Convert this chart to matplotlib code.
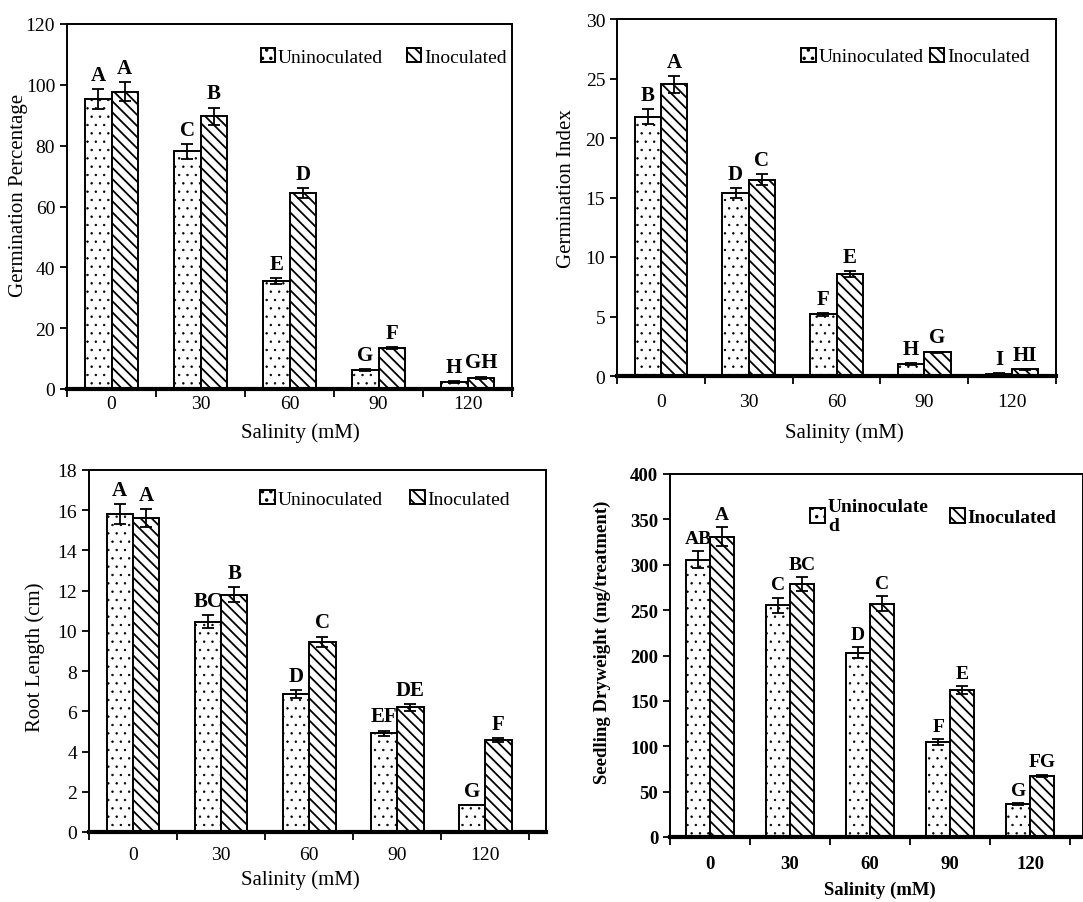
import matplotlib
matplotlib.use("Agg")
import matplotlib.pyplot as plt
import numpy as np

plt.rcParams['font.family'] = ['Liberation Serif', 'DejaVu Serif']
plt.rcParams['hatch.linewidth'] = 1.3

salinity = ['0', '30', '60', '90', '120']
series_names = ['Uninoculated', 'Inoculated']

# Panel 1: Germination Percentage
gp_unin = [95.3, 78.1, 35.4, 6.3, 2.3]
gp_inoc = [97.8, 89.6, 64.4, 13.4, 3.7]
gp_unin_err = [3.2, 2.4, 1.0, 0.3, 0.3]
gp_inoc_err = [3.2, 2.9, 1.7, 0.4, 0.4]
gp_unin_let = ['A', 'C', 'E', 'G', 'H']
gp_inoc_let = ['A', 'B', 'D', 'F', 'GH']

# Panel 2: Germination Index
gi_unin = [21.8, 15.4, 5.2, 1.0, 0.2]
gi_inoc = [24.5, 16.5, 8.6, 2.0, 0.55]
gi_unin_err = [0.65, 0.4, 0.12, 0.1, 0.05]
gi_inoc_err = [0.7, 0.45, 0.25, 0.05, 0.05]
gi_unin_let = ['B', 'D', 'F', 'H', 'I']
gi_inoc_let = ['A', 'C', 'E', 'G', 'HI']

# Panel 3: Root Length
rl_unin = [15.8, 10.45, 6.85, 4.9, 1.33]
rl_inoc = [15.6, 11.8, 9.45, 6.2, 4.58]
rl_unin_err = [0.5, 0.33, 0.2, 0.14, 0.0]
rl_inoc_err = [0.45, 0.37, 0.27, 0.17, 0.1]
rl_unin_let = ['A', 'BC', 'D', 'EF', 'G']
rl_inoc_let = ['A', 'B', 'C', 'DE', 'F']

# Panel 4: Seedling Dryweight
sd_unin = [305.5, 255.5, 203.0, 104.5, 36.0]
sd_inoc = [331.0, 278.7, 257.0, 162.0, 67.3]
sd_unin_err = [9.5, 8.3, 6.0, 3.0, 1.0]
sd_inoc_err = [10.5, 7.4, 8.3, 4.0, 1.5]
sd_unin_let = ['AB', 'C', 'D', 'F', 'G']
sd_inoc_let = ['A', 'BC', 'C', 'E', 'FG']

fig = plt.figure(figsize=(10.83, 9.03), dpi=100)

W, H = 1083.0, 903.0
def axes_px(l, t, r, b):
    return fig.add_axes([l / W, 1 - b / H, (r - l) / W, (b - t) / H])

panels = [
    dict(box=(67, 25, 512, 390), u=gp_unin, i=gp_inoc, ue=gp_unin_err, ie=gp_inoc_err,
         ul=gp_unin_let, il=gp_inoc_let, ylim=(0, 120), yticks=np.arange(0, 121, 20),
         ylabel='Germination Percentage', xlim=(-0.5, 4.5), bold=False,
         leg=(0.435, 0.935), colsp=1.2, xlab=(0.524, -0.118), ylab=(-0.110, 0.534), xpad=4),
    dict(box=(617, 20, 1056, 377), u=gi_unin, i=gi_inoc, ue=gi_unin_err, ie=gi_inoc_err,
         ul=gi_unin_let, il=gi_inoc_let, ylim=(0, 30), yticks=np.arange(0, 31, 5),
         ylabel='Germination Index', xlim=(-0.5, 4.5), bold=False,
         leg=(0.42, 0.92), colsp=0.3, xlab=(0.519, -0.157), ylab=(-0.114, 0.527), xpad=12),
    dict(box=(89, 471, 546, 833), u=rl_unin, i=rl_inoc, ue=rl_unin_err, ie=rl_inoc_err,
         ul=rl_unin_let, il=rl_inoc_let, ylim=(0, 18), yticks=np.arange(0, 19, 2),
         ylabel='Root Length (cm)', xlim=(-0.5, 4.69), bold=False,
         leg=(0.375, 0.945), colsp=1.4, xlab=(0.462, -0.13), ylab=(-0.118, 0.486), xpad=10),
    dict(box=(670, 475, 1083, 838), u=sd_unin, i=sd_inoc, ue=sd_unin_err, ie=sd_inoc_err,
         ul=sd_unin_let, il=sd_inoc_let, ylim=(0, 400), yticks=np.arange(0, 401, 50),
         ylabel='Seedling Dryweight (mg/treatment)', xlim=(-0.5, 4.66), bold=True,
         leg=(0.34, 0.935), colsp=1.1, xlab=(0.508, -0.143), ylab=(-0.165, 0.54), xpad=13),
]

x = np.arange(len(salinity))
bw = 0.3
for p in panels:
    ax = axes_px(*p['box'])
    fw = 'bold' if p['bold'] else 'normal'
    fs_tick = 13.5 if p['bold'] else 14
    fs_lab = 13.5 if p['bold'] else 15
    fs_let = 14 if p['bold'] else 15
    fs_leg = 14
    with plt.rc_context({'hatch.linewidth': 0.5}):
        ax.bar(x - bw / 2, p['u'], bw, color='white', edgecolor='black', linewidth=1.4,
               hatch='..', label=series_names[0] if not p['bold'] else 'Uninoculate\nd', zorder=2)
    ax.bar(x + bw / 2, p['i'], bw, color='white', edgecolor='black', linewidth=1.4,
           hatch='\\\\\\', label=series_names[1], zorder=2)
    ax.errorbar(x - bw / 2, p['u'], yerr=p['ue'], fmt='none', ecolor='black',
                elinewidth=1.3, capsize=4, capthick=1.3, zorder=3)
    ax.errorbar(x + bw / 2, p['i'], yerr=p['ie'], fmt='none', ecolor='black',
                elinewidth=1.3, capsize=4, capthick=1.3, zorder=3)
    for xi, v, e, t in zip(x - bw / 2, p['u'], p['ue'], p['ul']):
        ax.annotate(t, (xi, v + e), xytext=(0, 3), textcoords='offset points',
                    ha='center', va='bottom', fontsize=fs_let, fontweight='bold')
    for xi, v, e, t in zip(x + bw / 2, p['i'], p['ie'], p['il']):
        ax.annotate(t, (xi, v + e), xytext=(0, 3), textcoords='offset points',
                    ha='center', va='bottom', fontsize=fs_let, fontweight='bold')
    ax.set_xlim(*p['xlim'])
    ax.set_ylim(*p['ylim'])
    ax.set_yticks(p['yticks'])
    ax.set_xticks(x)
    ax.set_xticklabels(salinity, fontsize=fs_tick, fontweight=fw)
    ax.set_xticks(np.arange(-0.5, 4.6, 1.0), minor=True)
    ax.tick_params(axis='x', which='major', length=0, pad=p['xpad'])
    ax.tick_params(axis='x', which='minor', length=6, width=1.3, direction='out')
    ax.tick_params(axis='y', length=5, width=1.3, direction='out', labelsize=fs_tick)
    for lbl in ax.get_yticklabels():
        lbl.set_fontweight(fw)
    for s in ['left', 'top', 'right']:
        ax.spines[s].set_linewidth(1.4)
    ax.spines['bottom'].set_linewidth(3.0)
    ax.set_ylabel(p['ylabel'], fontsize=fs_lab, fontweight=fw)
    ax.set_xlabel('Salinity (mM)', fontsize=fs_lab, fontweight=fw)
    ax.xaxis.set_label_coords(*p['xlab'])
    ax.yaxis.set_label_coords(*p['ylab'])
    ax.xaxis.label.set_va('center')
    ax.yaxis.label.set_va('center')
    ax.legend(loc='upper left', bbox_to_anchor=p['leg'], ncol=2, frameon=False,
              handlelength=0.75, handleheight=0.75,
              handletextpad=0.15, columnspacing=p['colsp'], borderpad=0, borderaxespad=0,
              prop={'weight': fw, 'size': fs_leg})

fig.savefig('out.png', dpi=100)
